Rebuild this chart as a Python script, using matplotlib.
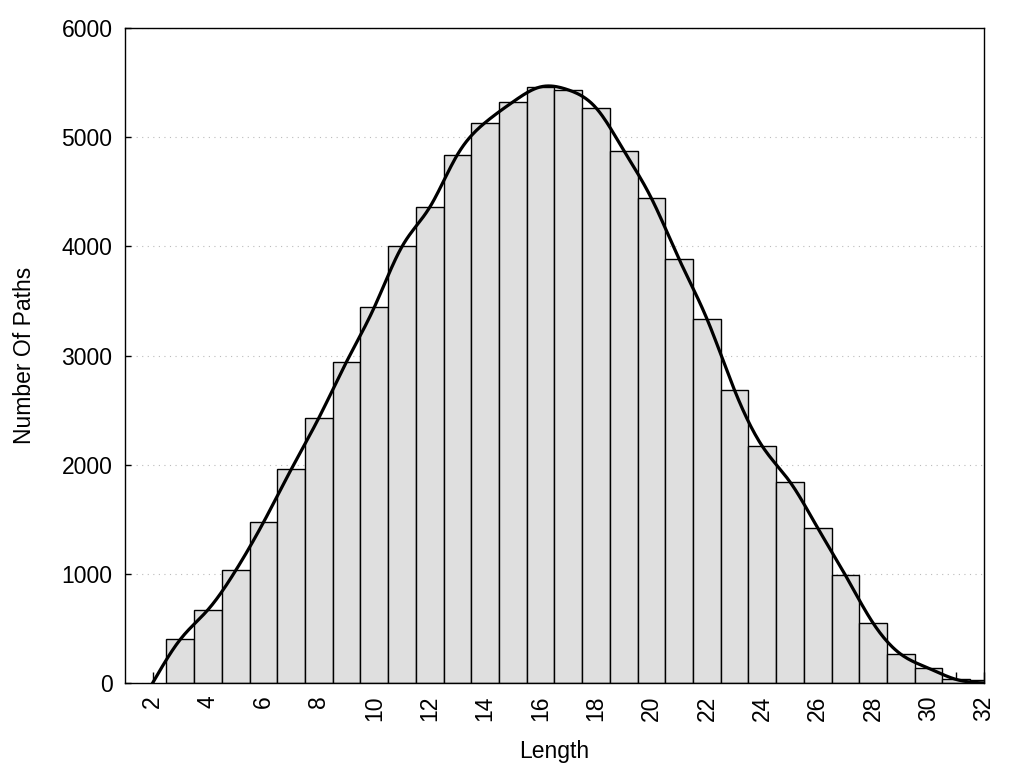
import numpy as np
import matplotlib
matplotlib.use('Agg')
import matplotlib.pyplot as plt

# path length histogram
lengths = [3, 4, 5, 6, 7, 8, 9, 10, 11, 12, 13, 14, 15, 16, 17,
           18, 19, 20, 21, 22, 23, 24, 25, 26, 27, 28, 29, 30, 31, 32]
counts = [400, 672, 1032, 1472, 1957, 2430, 2945, 3443, 3999, 4359, 4841, 5134, 5323, 5461, 5433,
          5268, 4878, 4439, 3880, 3336, 2680, 2168, 1841, 1419, 986, 547, 263, 135, 32, 28]

# points for the smoothed curve (starts and ends at zero)
curve_x = [2] + lengths[:-1] + [32]
curve_y = [0] + counts[:-1] + [0]


def natural_spline(x, y, n=600):
    x = np.asarray(x, float)
    y = np.asarray(y, float)
    k = len(x)
    h = np.diff(x)
    A = np.zeros((k, k))
    b = np.zeros(k)
    A[0, 0] = A[-1, -1] = 1
    for i in range(1, k - 1):
        A[i, i - 1] = h[i - 1]
        A[i, i] = 2 * (h[i - 1] + h[i])
        A[i, i + 1] = h[i]
        b[i] = 6 * ((y[i + 1] - y[i]) / h[i] - (y[i] - y[i - 1]) / h[i - 1])
    m = np.linalg.solve(A, b)
    xs = np.linspace(x[0], x[-1], n)
    idx = np.clip(np.searchsorted(x, xs) - 1, 0, k - 2)
    x0, x1 = x[idx], x[idx + 1]
    hh = x1 - x0
    t0, t1 = x1 - xs, xs - x0
    ys = (m[idx] * t0**3 + m[idx + 1] * t1**3) / (6 * hh) \
        + (y[idx] / hh - m[idx] * hh / 6) * t0 + (y[idx + 1] / hh - m[idx + 1] * hh / 6) * t1
    return xs, ys


plt.rcParams['font.family'] = ['Liberation Sans', 'DejaVu Sans']
plt.rcParams['font.size'] = 16.5

fig = plt.figure(figsize=(10.24, 7.68), dpi=100)
ax = fig.add_axes([0.122, 0.1107, 0.839, 0.8528])

ax.bar(lengths, counts, width=1.0, color='#dfdfdf', edgecolor='black', linewidth=1.0, zorder=1)
sx, sy = natural_spline(curve_x, curve_y)
ax.plot(sx, sy, color='black', linewidth=2.3, zorder=3, clip_on=True)

ax.set_xlim(1, 32)
ax.set_ylim(0, 6000)
ax.set_xticks(range(2, 33, 2))
ax.set_xticks([31], minor=True)
ax.set_yticks(range(0, 6001, 1000))
ax.tick_params(axis='x', direction='in', length=8, width=1, labelrotation=90, pad=9)
ax.tick_params(axis='x', which='minor', direction='in', length=8, width=1)
ax.tick_params(axis='y', direction='in', length=4, width=1, pad=9)
ax.set_axisbelow(True)
ax.yaxis.grid(True, linestyle=(0, (1, 4)), color='#bbbbbb', linewidth=0.8)

for s in ax.spines.values():
    s.set_linewidth(1.0)
    s.set_zorder(4)

ax.set_xlabel('Length', labelpad=14)
ax.set_ylabel('Number Of Paths', labelpad=18)

fig.savefig('out.png', dpi=100)
